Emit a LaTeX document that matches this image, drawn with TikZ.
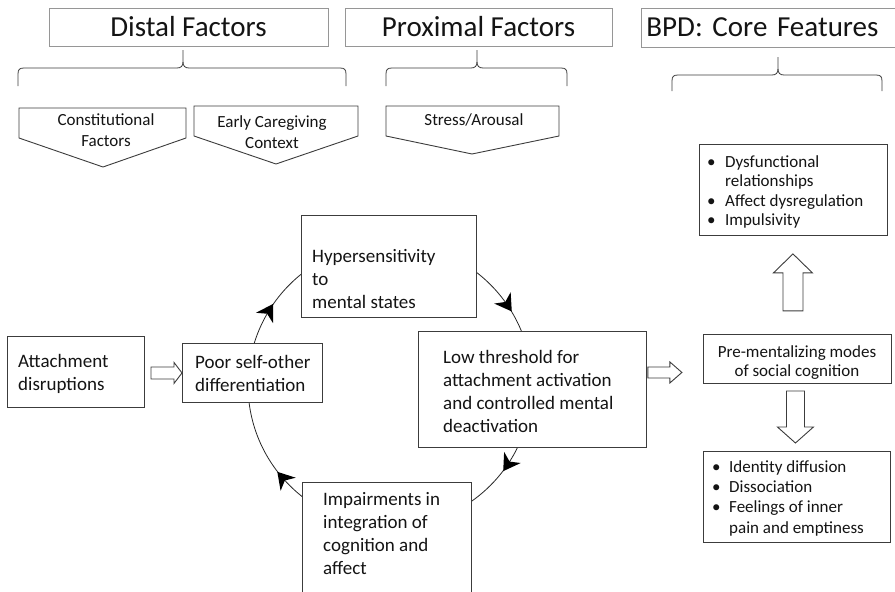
\documentclass[tikz,border=0pt]{standalone}
\usepackage{fontspec}
\setmainfont{Carlito}
\usetikzlibrary{arrows.meta,decorations.markings,calc}
\definecolor{hdr}{RGB}{150,150,150}
\definecolor{ln}{RGB}{60,60,60}
\definecolor{tx}{RGB}{20,20,20}
\newcommand\mybracepath[6]{%
  \draw[brc] (#1,#5) -- (#1,#4+6) .. controls (#1,#4+1.5) and (#1+1.5,#4) .. (#1+6,#4) -- (#3-6,#4) .. controls (#3-2,#4) and (#3,#4-2) .. (#3,#4-6) -- (#3,#6);
  \draw[brc] (#3,#4-6) .. controls (#3,#4-2) and (#3+2,#4) .. (#3+6,#4) -- (#2-6,#4) .. controls (#2-1.5,#4) and (#2,#4+1.5) .. (#2,#4+6) -- (#2,#5);}
\newcommand\mychev{\fill[black] (8.5,0) -- (-8,10) -- (-3,0) -- (-8,-10) -- cycle;}
\begin{document}
\frenchspacing
\begin{tikzpicture}[x=1pt,y=-1pt,
  hdrbox/.style={draw=hdr, line width=0.9pt, inner ysep=0pt, text height=28pt, text depth=10pt, anchor=north, font=\fontsize{29}{35}\selectfont, text=tx},
  brc/.style={draw=ln, line width=0.8pt},
  pent/.style={draw=ln, line width=0.9pt, fill=white, line join=miter},
  pt/.style={font=\fontsize{17}{21}\selectfont, text=tx, inner sep=0pt, align=center},
  box/.style={draw=ln, line width=0.9pt, fill=white, inner sep=0pt, anchor=north west},
  bt/.style={font=\fontsize{19}{23.2}\selectfont, text=tx, inner sep=0pt, align=left, anchor=north west},
  st/.style={font=\fontsize{17}{19.5}\selectfont, text=tx, inner sep=0pt},
  blk/.style={draw=ln, line width=0.9pt, fill=white, line join=miter},
  cyc/.style={draw=black!85, line width=0.8pt},
]
\useasboundingbox (0,0) rectangle (895,592);

% headers
\node[hdrbox, minimum width=279pt] (dist) at (188.5,8) {Distal Factors};
\node[hdrbox, minimum width=267pt] (prox) at (478.5,8) {Proximal Factors};
\node[hdrbox, anchor=north west, text width=254pt, align=left, inner xsep=5pt, text depth=11pt] (bpd) at (641,8) {BPD: Core Features};

% braces
\mybracepath{18}{346}{183}{68}{86}{50}
\mybracepath{386}{567}{477}{68}{86}{50}
\mybracepath{672}{882}{778}{75}{91}{57}

% pentagons
\draw[pent] (19,108) -- (186,108) -- (186,138) -- (103,167) -- (19,138) -- cycle;
\node[pt, anchor=north] (cons) at (106,110.3) {\strut Constitutional\\Factors};
\draw[pent] (194,106) -- (358,106) -- (358,136) -- (276,164) -- (194,136) -- cycle;
\node[pt, anchor=north] (early) at (272,112.3) {\strut Early Caregiving\\Context};
\draw[pent] (386,106) -- (559,106) -- (559,136) -- (472,154) -- (386,136) -- cycle;
\node[pt, anchor=base] (stress) at (474,125) {Stress/Arousal};

% cycle
\coordinate (cc) at (390,385);
\draw[cyc, postaction={decorate}, decoration={markings,
   mark=at position 0.087 with {\mychev},
   mark=at position 0.404 with {\mychev},
   mark=at position 0.594 with {\mychev},
   mark=at position 0.886 with {\mychev}}]
   (cc) ++(-142,0) arc[start angle=180, end angle=540, radius=142];

% boxes
\node[box, minimum width=137pt, minimum height=71pt] (att) at (7,336) {};
\node[box, minimum width=140pt, minimum height=59pt] (poor) at (182,343) {};
\node[box, minimum width=175pt, minimum height=102pt] (hyp) at (301,215) {};
\node[box, minimum width=228pt, minimum height=116pt] (low) at (418,331) {};
\node[box, minimum width=169pt, minimum height=116pt] (imp) at (302,482) {};
\node[box, minimum width=188pt, minimum height=91pt] (topr) at (699,144) {};
\node[box, minimum width=188pt, minimum height=49pt] (pre) at (703,334) {};
\node[box, minimum width=187pt, minimum height=91pt] (botr) at (703,451) {};

\node[bt] (att-t) at (18,350.8) {\strut Attachment\\disruptions};
\node[bt] (poor-t) at (195,351.8) {\strut Poor self-other\\differentiation};
\node[bt] (hyp-t) at (312,245.8) {\strut Hypersensitivity\\to\\mental states};
\node[bt] (low-t) at (443,346.8) {\strut Low threshold for\\attachment activation\\and controlled mental\\deactivation};
\node[bt] (imp-t) at (323,488.8) {\strut Impairments in\\integration of\\cognition and\\affect};

\node[st, align=left, anchor=north west] (topr-t) at (707,153.4) {\strut\makebox[18pt][l]{\textbullet}Dysfunctional\\\hspace*{18pt}relationships\\\makebox[18pt][l]{\textbullet}Affect dysregulation\\\makebox[18pt][l]{\textbullet}Impulsivity};
\node[st, align=center, anchor=north] (pre-t) at (797,343.4) {\strut Pre-mentalizing modes\\of social cognition};
\node[st, font=\fontsize{17}{20.3}\selectfont, align=left, anchor=north west] (botr-t) at (712,457.8) {\strut\makebox[17pt][l]{\textbullet}Identity diffusion\\\makebox[17pt][l]{\textbullet}Dissociation\\\makebox[17pt][l]{\textbullet}Feelings of inner\\\hspace*{17pt}pain and emptiness};

% block arrows
\draw[blk] ($(poor.west)+(-31,-6)$) -- ++(23,0) -- ++(0,-4.5) -- (poor.west) -- ++(-8,10.5) -- ++(0,-4.5) -- ++(-23,0) -- cycle;
\coordinate (t2) at ($(low.east)+(35,-17)$);
\draw[blk] (t2) -- ++(-12,10.5) -- ++(0,-5) -- ++(-22,0) -- ++(0,-11) -- ++(22,0) -- ++(0,-5) -- cycle;
\coordinate (t3) at ($(topr.south)+(-0.5,18)$);
\draw[blk] (t3) -- ++(19.5,19) -- ++(-9.5,0) -- ++(0,38) -- ++(-20,0) -- ++(0,-38) -- ++(-9.5,0) -- cycle;
\coordinate (t4) at ($(botr.north)+(-1.5,-8)$);
\draw[blk] (t4) -- ++(18,-16) -- ++(-9,0) -- ++(0,-36) -- ++(-18,0) -- ++(0,36) -- ++(-9,0) -- cycle;
\end{tikzpicture}
\end{document}
